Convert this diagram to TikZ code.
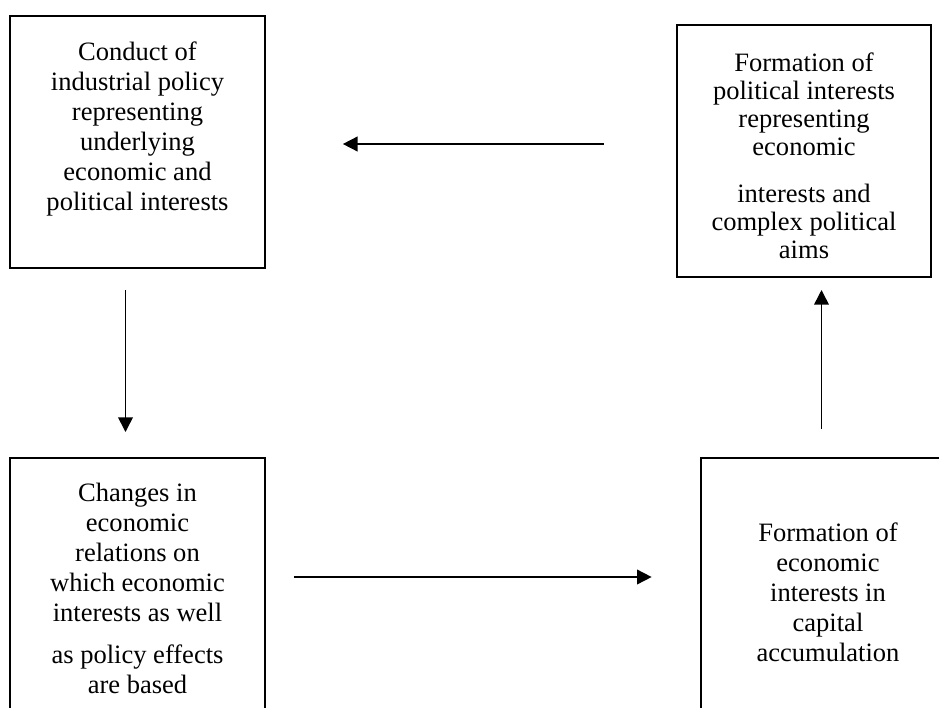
\documentclass[tikz,border=0pt]{standalone}
\usepackage{fontspec}
\setmainfont{Liberation Serif}
\usetikzlibrary{positioning,arrows.meta}
\tikzstyle{panel} = [rectangle, draw=black, line width=1.5pt, minimum width=191pt, minimum height=189pt, inner sep=0pt]
\tikzstyle{tallpanel} = [panel, minimum height=225pt]
\tikzstyle{caption} = [align=center, inner sep=0pt, font=\fontsize{19.9pt}{22.5pt}\selectfont]
\tikzstyle{tightcaption} = [caption, font=\fontsize{19.9pt}{21pt}\selectfont]
\tikzstyle{arrow} = [line width=1.2pt, -{Triangle[length=11pt,width=11pt]}]

\begin{document}
\begin{tikzpicture}[x=0.75pt,y=-0.75pt]
      \useasboundingbox (0,0) rectangle (939,707);
      \node (conduct)[panel] at (137.5,142) {};
      \node (formpol)[panel] at (804,151) {};
      \node (changes)[tallpanel] at (137.5,608) {};
      \node (formeco)[tallpanel] at (828,608) {};
      \node (conducttxt)[caption, below=20pt of conduct.north]{Conduct of\\industrial policy\\representing\\underlying\\economic and\\political interests};
      \node (formpoltxt)[tightcaption, below=21.5pt of formpol.north]{Formation of\\political interests\\representing\\economic\\[14pt]interests and\\complex political\\aims};
      \node (changestxt)[caption, below=19pt of changes.north]{Changes in\\economic\\relations on\\which economic\\interests as well\\[9pt]as policy effects\\are based};
      \node (formecotxt)[caption, below=49pt of formeco.north]{Formation of\\economic\\interests in\\capital\\accumulation};
      \coordinate (toprow) at (470,144);
      \coordinate (botrow) at (470,577);
      \coordinate (rightcol) at (821.5,360);
      \draw [arrow, shorten <=54pt, shorten >=57.75pt](formpol.west |- toprow)--(conduct.east |- toprow);
      \draw [arrow, shorten <=15.75pt, shorten >=18.75pt]([xshift=-9pt]conduct.south)--([xshift=-9pt]changes.north);
      \draw [arrow, shorten <=21pt, shorten >=36pt](changes.east |- botrow)--(formeco.west |- botrow);
      \draw [arrow, shorten <=21pt, shorten >=9pt](rightcol |- formeco.north)--(rightcol |- formpol.south);
    \end{tikzpicture}
\end{document}
